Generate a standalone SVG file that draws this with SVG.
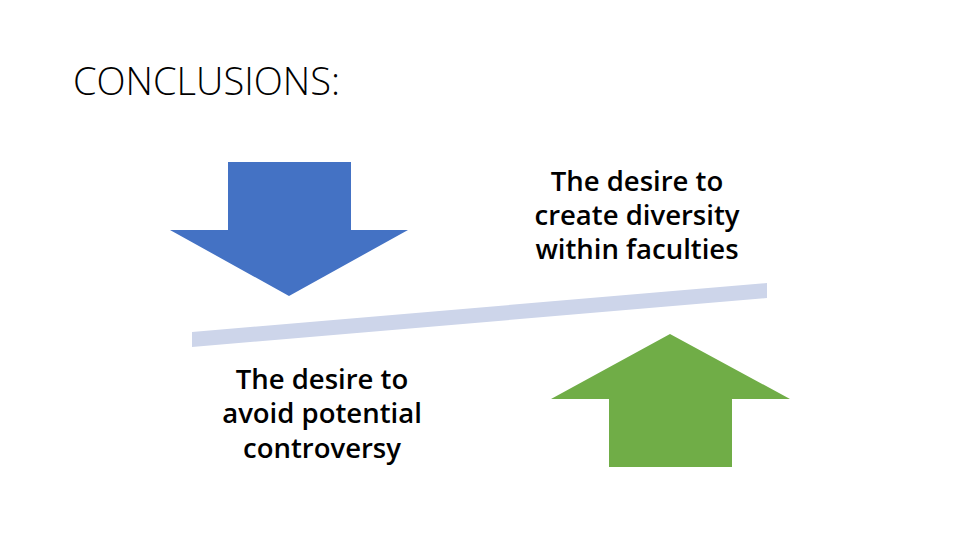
<svg xmlns="http://www.w3.org/2000/svg" width="960" height="540" viewBox="0 0 960 540">
<style>
.lbl{font-family:"Open Sans","Liberation Sans",sans-serif;font-weight:600;font-size:27.5px;fill:#000;text-anchor:middle}
.title{font-family:"Open Sans","Liberation Sans",sans-serif;font-weight:300;font-size:38px;fill:#000}
</style>
<rect width="960" height="540" fill="#fff"/>
<text class="title" x="73" y="95">CONCLUSIONS:</text>
<g id="beam"><polygon points="192,332 767,283 767,298 192,347" fill="#CDD5EA"/></g>
<g id="down-arrow"><polygon points="228,162 351,162 351,230 408,230 289,296 170,230 228,230" fill="#4472C4"/></g>
<g id="up-arrow"><polygon points="670,334 790,399 732,399 732,467 609,467 609,399 551,399" fill="#70AD47"/></g>
<g id="label-diversity">
<text class="lbl" x="637" y="191">The desire to</text>
<text class="lbl" x="637" y="225">create diversity</text>
<text class="lbl" x="637" y="259">within faculties</text>
</g>
<g id="label-controversy">
<text class="lbl" x="322" y="389">The desire to</text>
<text class="lbl" x="322" y="423">avoid potential</text>
<text class="lbl" x="322" y="458">controversy</text>
</g>
<g id="connectors"></g>
</svg>
